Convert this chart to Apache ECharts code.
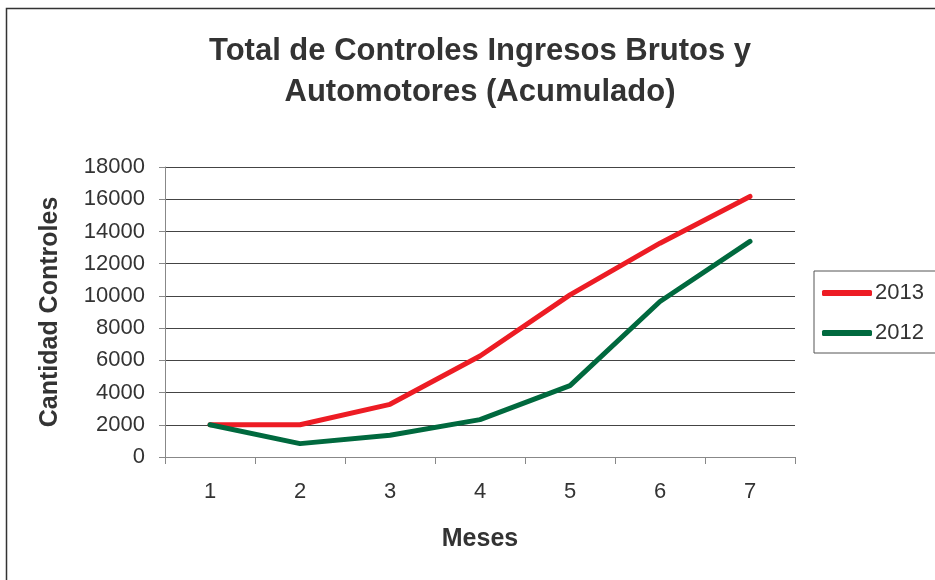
<!DOCTYPE html>
<html>
<head>
<meta charset="utf-8">
<script src="https://cdn.jsdelivr.net/npm/echarts@6/dist/echarts.min.js"></script>
<style>html,body{margin:0;padding:0;background:#fff}#c{width:935px;height:580px}</style>
</head>
<body>
<div id="c"></div>
<script>
const categories = ['1', '2', '3', '4', '5', '6', '7'];
const series2013 = [2000, 2000, 3270, 6270, 10060, 13270, 16170];
const series2012 = [2000, 830, 1350, 2320, 4430, 9650, 13380];
const seriesNames = ['2013', '2012'];
const titleText = 'Total de Controles Ingresos Brutos y\nAutomotores (Acumulado)';

const chart = echarts.init(document.getElementById('c'));
const font = 'Liberation Sans, Arial, sans-serif';
chart.setOption({
  animation: false,
  textStyle: { fontFamily: font },
  graphic: [{
    type: 'rect', left: 4, top: 6, shape: { width: 1000, height: 1000 },
    style: { fill: 'none', stroke: '#333', lineWidth: 1.5 }, silent: true
  }],
  title: {
    text: titleText, left: 475, top: 26, textAlign: 'center',
    textStyle: { fontFamily: font, fontSize: 31, fontWeight: 'bold', color: '#333', lineHeight: 41 }
  },
  legend: {
    orient: 'vertical', left: 814, top: 271,
    data: seriesNames.map(n => ({ name: n, icon: 'roundRect' })),
    itemWidth: 50, itemHeight: 6, itemGap: 18,
    padding: [11, 30, 9, 8],
    borderColor: '#555', borderWidth: 1,
    textStyle: { fontFamily: font, fontSize: 22, color: '#333', padding: [0, 0, 0, -2] }
  },
  grid: { left: 165, right: 140, top: 167, bottom: 123 },
  xAxis: {
    type: 'category', data: categories, boundaryGap: true,
    name: 'Meses', nameLocation: 'middle', nameGap: 70,
    nameTextStyle: { fontFamily: font, fontSize: 25, fontWeight: 'bold', color: '#333' },
    axisLine: { lineStyle: { color: '#888', width: 1 } },
    axisTick: { show: true, length: 7, lineStyle: { color: '#888' } },
    axisLabel: { fontFamily: font, fontSize: 22, color: '#333', margin: 24 }
  },
  yAxis: {
    type: 'value', min: 0, max: 18000, interval: 2000,
    name: 'Cantidad Controles', nameLocation: 'middle', nameGap: 102,
    nameTextStyle: { fontFamily: font, fontSize: 25, fontWeight: 'bold', color: '#333' },
    axisLine: { show: true, lineStyle: { color: '#888', width: 1 } },
    axisTick: { show: true, length: 6, lineStyle: { color: '#888' } },
    axisLabel: { fontFamily: font, fontSize: 22, color: '#333', margin: 20, formatter: v => String(v) },
    splitLine: { lineStyle: { color: '#444', width: 1 } }
  },
  series: [
    { name: seriesNames[0], type: 'line', data: series2013, symbol: 'none',
      lineStyle: { color: '#ED1C24', width: 5, cap: 'round' }, itemStyle: { color: '#ED1C24' } },
    { name: seriesNames[1], type: 'line', data: series2012, symbol: 'none',
      lineStyle: { color: '#00693E', width: 5, cap: 'round' }, itemStyle: { color: '#00693E' } }
  ]
});
</script>
</body>
</html>
